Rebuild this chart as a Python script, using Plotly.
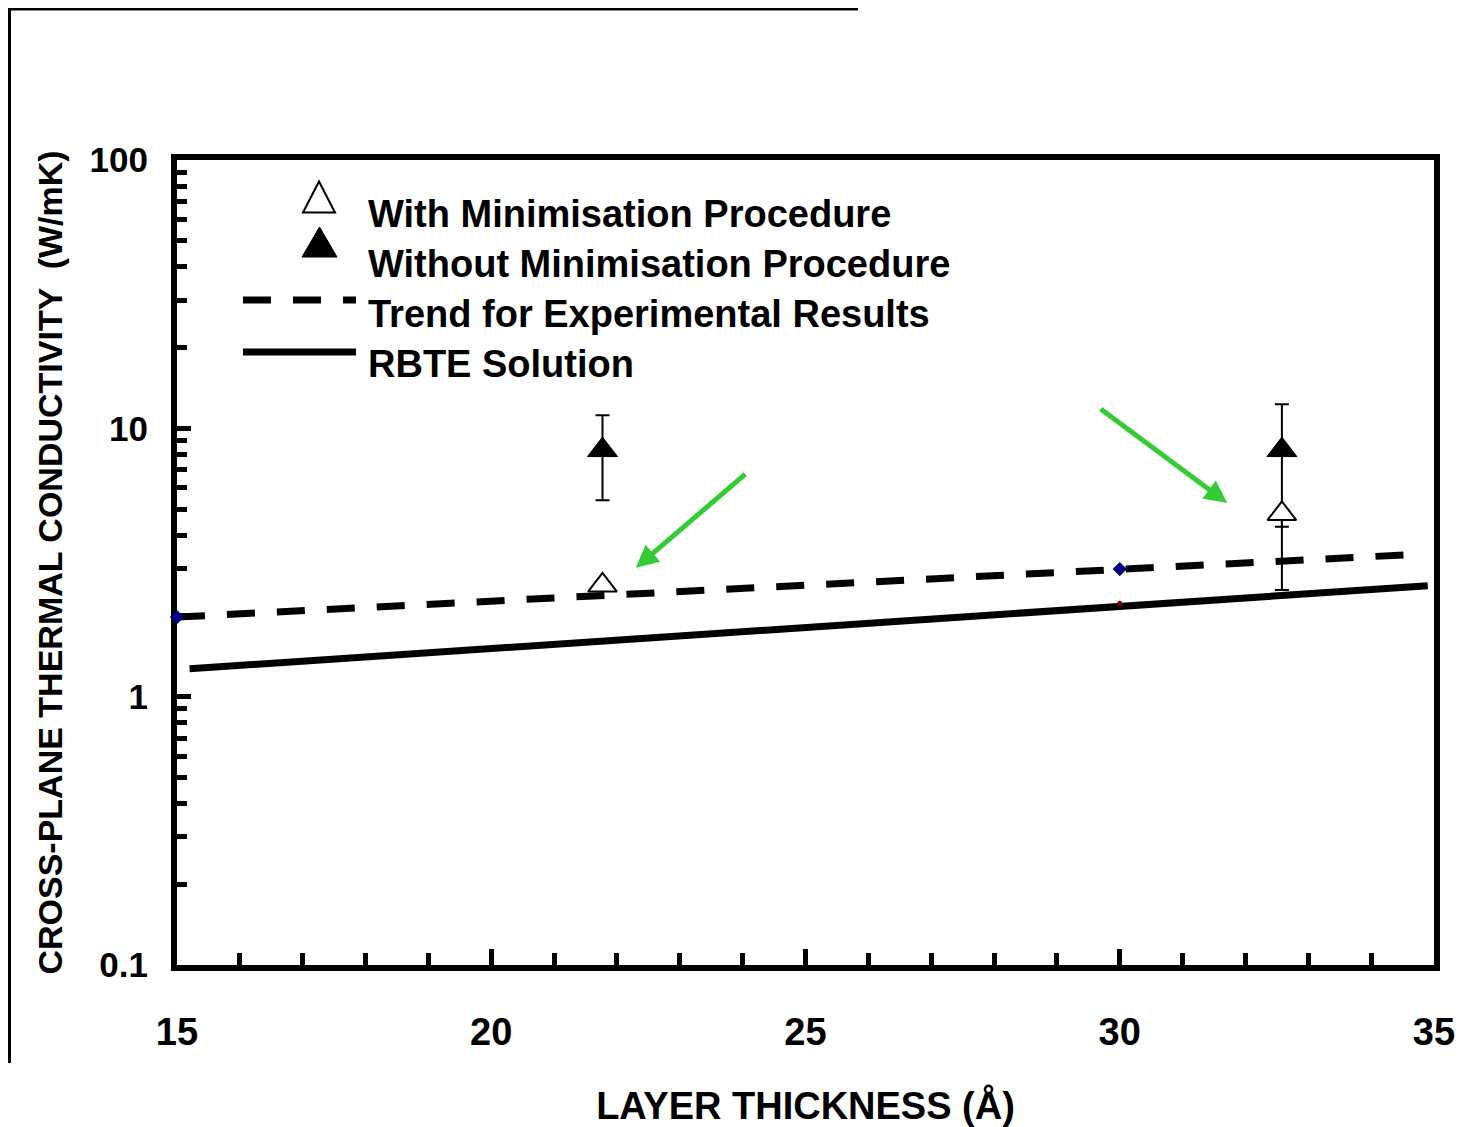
import math
import plotly.graph_objects as go

# ---- data ----
with_min_x = [21.77, 32.58]
with_min_y = [2.6, 4.8]
with_min_err_plus = [0.0, 0.0]
with_min_err_minus = [0.0, 2.3]

without_min_x = [21.77, 32.58]
without_min_y = [8.3, 8.3]
without_min_err = [2.9, 4.0]

trend_x = [15.0, 34.8]
trend_y = [1.98, 3.4]

rbte_x = [15.2, 34.9]
rbte_y = [1.27, 2.59]

exp_pts_x = [15.0, 30.0]
exp_pts_y = [1.98, 2.99]

rbte_pt_x = [30.0]
rbte_pt_y = [2.23]

arrow_head_x = [22.30, 31.71]
arrow_head_y = [3.02, 5.27]
arrow_tail_dx = [111, -128]
arrow_tail_dy = [-95, -95]

y_tickvals = [0.1, 1, 10, 100]
y_ticktext = ["0.1", "1", "10", "100"]
x_tickvals = [15, 20, 25, 30, 35]
x_ticktext = ["15", "20", "25", "30", "35"]

legend_labels = ["With Minimisation Procedure", "Without Minimisation Procedure",
                 "Trend for Experimental Results", "RBTE Solution"]

FONT = "Arial, Liberation Sans, sans-serif"

# page offset (default body margin of the html page)
OFF = 8
FIG_W, FIG_H = 1475 - OFF, 1127 - OFF
# plot-area geometry in reference-page pixels
L, R, T, B = 177, 1434, 160, 965
W, H = R - L, B - T


def px(x):
    return (x - L) / W


def py(y):
    return (B - y) / H


fig = go.Figure()

fig.add_trace(go.Scatter(x=trend_x, y=trend_y, mode="lines",
                         line=dict(color="black", width=7, dash="28px,22px"),
                         showlegend=False))
fig.add_trace(go.Scatter(x=rbte_x, y=rbte_y, mode="lines",
                         line=dict(color="black", width=7),
                         showlegend=False))
fig.add_trace(go.Scatter(x=exp_pts_x, y=exp_pts_y, mode="markers", cliponaxis=False,
                         marker=dict(symbol="diamond", size=11, color="#000080"),
                         showlegend=False))
fig.add_trace(go.Scatter(x=rbte_pt_x, y=rbte_pt_y, mode="markers",
                         marker=dict(symbol="circle", size=5, color="#990000"),
                         showlegend=False))
fig.add_trace(go.Scatter(x=without_min_x, y=without_min_y, mode="markers",
                         marker=dict(symbol="triangle-up", size=26, color="black",
                                     line=dict(color="black", width=1)),
                         error_y=dict(type="data", array=without_min_err, visible=True,
                                      color="black", thickness=2, width=7),
                         showlegend=False))
fig.add_trace(go.Scatter(x=with_min_x, y=with_min_y, mode="markers",
                         marker=dict(symbol="triangle-up", size=25, color="white",
                                     line=dict(color="black", width=2)),
                         error_y=dict(type="data", symmetric=False, array=with_min_err_plus,
                                      arrayminus=with_min_err_minus, visible=True,
                                      color="black", thickness=2, width=7),
                         showlegend=False))

shapes = []
# outer frame lines (top and left)
shapes.append(dict(type="line", xref="paper", yref="paper", x0=px(6), x1=px(858),
                   y0=py(8), y1=py(8), line=dict(color="black", width=5)))
shapes.append(dict(type="line", xref="paper", yref="paper", x0=px(9), x1=px(9),
                   y0=py(6), y1=py(1063), line=dict(color="black", width=4)))


def tri(cx, cy, w, h):
    return (f"M {px(cx - w / 2)} {py(cy + h / 2)} L {px(cx + w / 2)} {py(cy + h / 2)} "
            f"L {px(cx)} {py(cy - h / 2)} Z")


# legend symbols
shapes.append(dict(type="path", xref="paper", yref="paper", path=tri(319, 197, 32, 31),
                   fillcolor="white", line=dict(color="black", width=2)))
shapes.append(dict(type="path", xref="paper", yref="paper", path=tri(319.5, 242, 35, 30),
                   fillcolor="black", line=dict(color="black", width=1)))
shapes.append(dict(type="line", xref="paper", yref="paper", x0=px(243), x1=px(356),
                   y0=py(300), y1=py(300), line=dict(color="black", width=7, dash="28px,22px")))
shapes.append(dict(type="line", xref="paper", yref="paper", x0=px(243), x1=px(356),
                   y0=py(352), y1=py(352), line=dict(color="black", width=7)))

annotations = []
for i, lab in enumerate(legend_labels):
    annotations.append(dict(xref="paper", yref="paper", x=px(366), y=py(214 + 50 * i),
                            xanchor="left", yanchor="middle", showarrow=False, text=lab,
                            font=dict(family=FONT, size=38, color="black", weight="bold")))

for hx, hy, dx, dy in zip(arrow_head_x, arrow_head_y, arrow_tail_dx, arrow_tail_dy):
    annotations.append(dict(x=hx, y=math.log10(hy), xref="x", yref="y", ax=dx, ay=dy,
                            axref="pixel", ayref="pixel", text="", showarrow=True,
                            arrowhead=2, arrowsize=0.9, arrowwidth=5, arrowcolor="#33CC33",
                            standoff=0))

fig.update_layout(
    width=FIG_W, height=FIG_H,
    margin=dict(l=L - OFF, r=FIG_W - (R - OFF), t=T - OFF, b=FIG_H - (B - OFF),
                autoexpand=False),
    paper_bgcolor="white", plot_bgcolor="white",
    font=dict(family=FONT, color="black", weight="bold"),
    shapes=shapes, annotations=annotations, showlegend=False,
)

fig.update_xaxes(
    range=[15, 35], tickvals=x_tickvals, ticktext=x_ticktext,
    ticks="inside", ticklen=16, tickwidth=5, tickcolor="black",
    minor=dict(ticks="inside", dtick=1, ticklen=12, tickwidth=5, tickcolor="black", showgrid=False),
    showline=True, linewidth=6, linecolor="black", mirror=True,
    showgrid=False, zeroline=False, layer="below traces",
    tickfont=dict(family=FONT, size=38, color="black", weight="bold"),
    ticklabelstandoff=28,
    title=dict(text="LAYER THICKNESS (Å)", standoff=46,
               font=dict(family=FONT, size=38, color="black", weight="bold")),
    automargin=False,
)
fig.update_yaxes(
    type="log", range=[-1, 2], tickvals=y_tickvals, ticktext=y_ticktext,
    ticks="inside", ticklen=14, tickwidth=5, tickcolor="black",
    minor=dict(ticks="inside", dtick="D1", ticklen=10, tickwidth=5, tickcolor="black", showgrid=False),
    showline=True, linewidth=6, linecolor="black", mirror=True,
    showgrid=False, zeroline=False, layer="below traces",
    tickfont=dict(family=FONT, size=35, color="black", weight="bold"),
    ticklabelstandoff=16,
    title=dict(text="CROSS-PLANE THERMAL CONDUCTIVITY  (W/mK)", standoff=19,
               font=dict(family=FONT, size=34, color="black", weight="bold")),
    automargin=False,
)

fig.write_html("out.html")
